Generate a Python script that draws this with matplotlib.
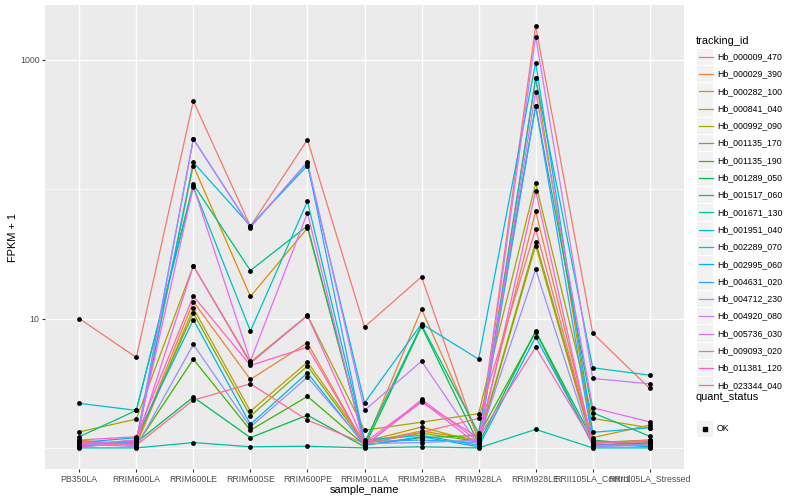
import matplotlib
matplotlib.use("Agg")
import matplotlib.pyplot as plt
from matplotlib.patches import Rectangle
from matplotlib.lines import Line2D
import numpy as np

plt.rcParams['font.family'] = ['Liberation Sans', 'DejaVu Sans']

# ---------- dados ----------
samples = ["PB350LA", "RRIM600LA", "RRIM600LE", "RRIM600SE", "RRIM600PE", "RRIM901LA",
           "RRIM928BA", "RRIM928LA", "RRIM928LE", "RRII105LA_Control", "RRII105LA_Stressed"]

tracking_ids = ["Hb_000009_470", "Hb_000029_390", "Hb_000282_100", "Hb_000841_040",
                "Hb_000992_090", "Hb_001135_170", "Hb_001135_190", "Hb_001289_050",
                "Hb_001517_060", "Hb_001671_130", "Hb_001951_040", "Hb_002289_070",
                "Hb_002995_060", "Hb_004631_020", "Hb_004712_230", "Hb_004920_080",
                "Hb_005736_030", "Hb_009093_020", "Hb_011381_120", "Hb_023344_040"]

# paleta hue do ggplot (n = 20)
hue_colors = ["#F8766D", "#EA8331", "#D89000", "#C09B00", "#A3A500", "#7CAE00",
              "#39B600", "#00BB4E", "#00BF7D", "#00C1A3", "#00BFC4", "#00BAE0",
              "#00B0F6", "#35A2FF", "#9590FF", "#C77CFF", "#E76BF3", "#FA62DB",
              "#FF62BC", "#FF6C91"]

# FPKM + 1, uma linha por tracking_id (ordem de samples)
fpkm1 = [
    [10.0, 5.0, 480, 51.6, 241, 8.6, 21.0, 1.12, 1820, 7.7, 2.88],
    [1.12, 1.08, 13.5, 3.38, 6.5, 1.05, 11.8, 1.2, 67.4, 1.1, 1.12],
    [1.08, 1.12, 152, 14.8, 50, 1.1, 1.35, 1.15, 718, 1.2, 1.5],
    [1.15, 1.05, 12.0, 1.92, 4.6, 1.12, 1.45, 1.1, 36.6, 1.05, 1.08],
    [1.33, 1.67, 25.5, 4.6, 10.6, 1.37, 1.58, 1.84, 111, 1.69, 1.43],
    [1.05, 1.15, 11.0, 1.76, 4.3, 1.08, 1.3, 1.12, 39.1, 1.1, 1.15],
    [1.1, 1.05, 4.85, 1.37, 2.5, 1.05, 1.2, 1.25, 7.9, 1.05, 1.1],
    [1.02, 1.1, 2.47, 1.2, 1.79, 1.02, 8.7, 1.08, 8.0, 1.15, 1.05],
    [1.22, 1.95, 109, 23.5, 52, 1.1, 8.9, 1.3, 440, 1.87, 1.23],
    [1.0, 1.0, 1.1, 1.02, 1.03, 1.0, 1.02, 1.0, 1.39, 1.0, 1.0],
    [2.21, 1.95, 104, 8.0, 80.5, 1.15, 1.25, 1.05, 718, 4.16, 3.65],
    [1.06, 1.1, 161, 52, 152, 2.23, 9.1, 4.85, 950, 1.32, 1.43],
    [1.1, 1.2, 9.8, 1.52, 3.8, 1.05, 1.22, 1.02, 7.2, 1.08, 1.02],
    [1.04, 1.12, 244, 51, 160, 1.12, 1.15, 1.1, 440, 1.12, 1.05],
    [1.08, 1.02, 6.3, 1.45, 3.52, 1.08, 1.1, 1.15, 24, 1.02, 1.05],
    [1.12, 1.05, 244, 50.5, 163, 1.95, 4.68, 1.05, 1510, 3.44, 3.13],
    [1.06, 1.15, 105, 4.68, 65.5, 1.02, 2.37, 1.12, 568, 2.04, 1.59],
    [1.02, 1.1, 25.5, 4.5, 10.5, 1.1, 2.3, 1.05, 97, 1.05, 1.05],
    [1.15, 1.22, 14.9, 4.34, 6.0, 1.05, 2.26, 1.2, 6.0, 1.1, 1.12],
    [1.1, 1.05, 2.34, 3.13, 1.64, 1.08, 1.32, 1.69, 49.3, 1.08, 1.15],
]

# ---------- figura ----------
W, H = 800, 500
fig = plt.figure(figsize=(8, 5), dpi=100)
ax = fig.add_axes([45 / W, 1 - 469 / H, (684 - 45) / W, (469 - 5) / H])
ax.set_facecolor("#EBEBEB")
for s in ax.spines.values():
    s.set_visible(False)

x = np.arange(len(samples))
for vals, col in zip(fpkm1, hue_colors):
    ax.plot(x, vals, color=col, lw=0.9, zorder=2)
for vals in fpkm1:
    ax.scatter(x, vals, s=12, color="black", zorder=3, linewidths=0)

ax.set_yscale("log")
allv = np.log10(np.array(fpkm1))
lo, hi = allv.min(), allv.max()
ext = (hi - lo) * 0.05
ax.set_ylim(10 ** (lo - ext), 10 ** (hi + ext))
ax.set_xlim(-0.6, len(samples) - 0.4)

ax.set_yticks([10, 1000])
ax.set_yticklabels(["10", "1000"])
ax.set_yticks([1, 100], minor=True)
ax.yaxis.set_minor_formatter(plt.NullFormatter())
ax.set_xticks(x)
ax.set_xticklabels(samples)

ax.grid(True, which="major", color="white", lw=1.0, zorder=0)
ax.grid(True, which="minor", axis="y", color="white", lw=0.5, zorder=0)
ax.set_axisbelow(True)
ax.tick_params(axis="both", which="major", labelsize=6.3, labelcolor="#4D4D4D",
               color="#333333", length=2, width=0.8, pad=2)
ax.tick_params(axis="y", which="minor", length=0)

ax.set_xlabel("sample_name", fontsize=7.9, labelpad=1)
ax.set_ylabel("FPKM + 1", fontsize=7.9, labelpad=1)

# ---------- legendas (estilo ggplot) ----------
def fx(px):
    return px / W

def fy(py):
    return 1 - py / H

fig.text(fx(696), fy(41), "tracking_id", fontsize=7.9, va="center", ha="left")
step = 17.3
for i, (name, col) in enumerate(zip(tracking_ids, hue_colors)):
    yc = 56.7 + i * step
    fig.add_artist(Rectangle((fx(697), fy(yc + 8.2)), 16.4 / W, 16.4 / H,
                             transform=fig.transFigure, facecolor="#F2F2F2", edgecolor="none"))
    fig.add_artist(Line2D([fx(698.5), fx(712.5)], [fy(yc), fy(yc)],
                          transform=fig.transFigure, color=col, lw=0.9))
    fig.text(fx(717), fy(yc), name, fontsize=6.3, va="center", ha="left")

fig.text(fx(696), fy(397), "quant_status", fontsize=7.9, va="center", ha="left")
fig.add_artist(Rectangle((fx(697), fy(437)), 16.4 / W, 16.4 / H,
                         transform=fig.transFigure, facecolor="#F2F2F2", edgecolor="none"))
fig.add_artist(Line2D([fx(705)], [fy(428.7)], transform=fig.transFigure,
                      marker="s", markersize=3.2, color="black", lw=0))
fig.text(fx(717), fy(428.7), "OK", fontsize=6.3, va="center", ha="left")

fig.savefig("out.png", dpi=100)
